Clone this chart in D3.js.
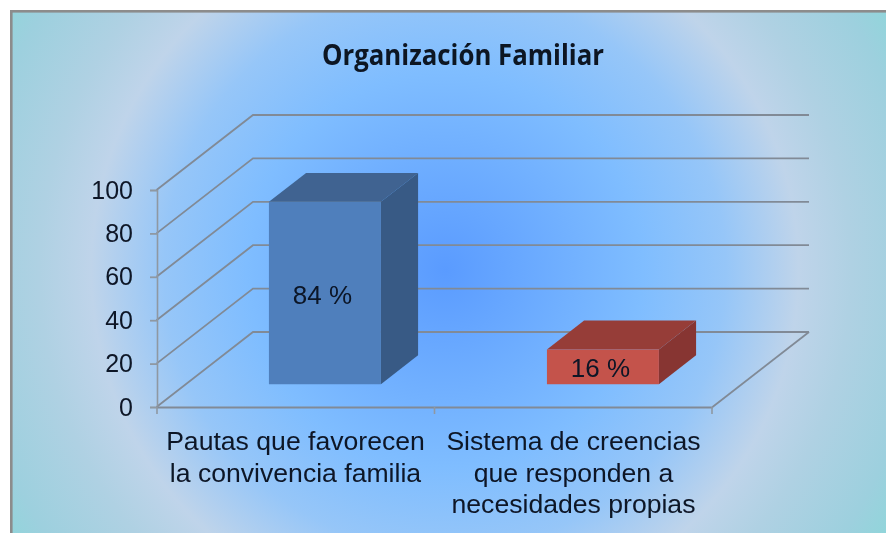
<!DOCTYPE html>
<html><head><meta charset="utf-8">
<script src="https://cdn.jsdelivr.net/npm/d3@7/dist/d3.min.js"></script>
<style>html,body{margin:0;padding:0;background:#fff;overflow:hidden}svg{display:block}</style>
</head><body><svg id="c" width="886" height="533"></svg>
<script>
const title = "Organización Familiar";
const categories = ["c1", "c2"];
const categoryLines = [["Pautas que favorecen", "la convivencia familia"], ["Sistema de creencias", "que responden a", "necesidades propias"]];
const values = [84, 16];
const valueLabels = ["84 %", "16 %"];
const yTicks = [0, 20, 40, 60, 80, 100];
const frontColors = ["#4f7fbc", "#c4534c"];
const topColors = ["#3f6491", "#963e39"];
const sideColors = ["#385a85", "#873632"];

const svg = d3.select("#c");
const defs = svg.append("defs");
const grad = defs.append("radialGradient").attr("id", "bg").attr("gradientUnits", "userSpaceOnUse")
  .attr("cx", 445).attr("cy", 270).attr("r", 520);
[[0, "#5a9bff"], [.38, "#7fbdff"], [.54, "#96c6f8"], [.68, "#bfd4ea"], [.78, "#afd1e3"], [.92, "#9dd0de"], [1, "#8fd6da"]]
  .forEach(([o, c]) => grad.append("stop").attr("offset", o).attr("stop-color", c));
const blur = defs.append("filter").attr("id", "soft").attr("x", "-5%").attr("y", "-5%").attr("width", "110%").attr("height", "110%");
blur.append("feGaussianBlur").attr("stdDeviation", 0.55);

svg.append("rect").attr("x", 10).attr("y", 10).attr("width", 876).attr("height", 523).attr("fill", "#8c8c8c");
svg.append("rect").attr("x", 12.6).attr("y", 12.6).attr("width", 874).attr("height", 521).attr("fill", "url(#bg)");

const root = svg.append("g").attr("filter", "url(#soft)");

const x = d3.scaleBand().domain(categories).range([156.5, 712.5]).padding(0);
const y = d3.scaleLinear().domain([0, 100]).range([407, 190]);
const depthX = d3.scaleLinear().domain([0, 1]).range([0, 96.5]);
const depthY = d3.scaleLinear().domain([0, 1]).range([0, -75]);
const barWidth = 112;
const depthFront = 0.305, depthBack = 0.69;

const gridStroke = "#818a96";
const grid = root.append("g");
yTicks.forEach(t => {
  const yy = y(t);
  grid.append("path").attr("fill", "none").attr("stroke", gridStroke).attr("stroke-width", 1.8)
    .attr("d", d3.line()([[156.5, yy], [156.5 + depthX(1), yy + depthY(1)], [712.5 + depthX(1), yy + depthY(1)]]));
});
grid.append("path").attr("fill", "none").attr("stroke", gridStroke).attr("stroke-width", 1.8)
  .attr("d", d3.line()([[712.5, y(0)], [712.5 + depthX(1), y(0) + depthY(1)]]));

const yAxis = root.append("g").attr("transform", "translate(157,0)")
  .call(d3.axisLeft(y).tickValues(yTicks).tickSize(7).tickPadding(17));
yAxis.select(".domain").attr("stroke", "#8f98a2").attr("stroke-width", 1.6);
yAxis.selectAll(".tick line").attr("stroke", "#8f98a2").attr("stroke-width", 1.8);
yAxis.selectAll("text").attr("font-family", "Liberation Sans").attr("font-size", 25).attr("fill", "#0b1526");

const xAxis = root.append("g").attr("transform", "translate(0,407)")
  .call(d3.axisBottom(x).tickSize(0).tickFormat(""));
xAxis.select(".domain").attr("stroke", gridStroke).attr("stroke-width", 1.8);
[157, x("c2"), 712].forEach(px => root.append("line").attr("x1", px).attr("x2", px).attr("y1", 407).attr("y2", 414)
  .attr("stroke", "#8f98a2").attr("stroke-width", 1.6));

categories.forEach((c, i) => {
  const cx = x(c) + x.bandwidth() / 2;
  const t = root.append("text").attr("text-anchor", "middle").attr("font-family", "Liberation Sans")
    .attr("font-size", 26.6).attr("fill", "#0b1526");
  categoryLines[i].forEach((ln, k) => t.append("tspan").attr("x", cx).attr("y", 450 + k * 31.5).text(ln));
});

categories.forEach((c, i) => {
  const cx = x(c) + x.bandwidth() / 2;
  const l0 = cx - barWidth / 2, r0 = cx + barWidth / 2;
  const fx = depthX(depthFront), bx = depthX(depthBack);
  const fy = depthY(depthFront), by = depthY(depthBack);
  const yb = y(0), yt = y(values[i]);
  const g = root.append("g");
  const poly = (pts, col) => g.append("path").attr("fill", col).attr("d", d3.line()(pts) + "Z");
  poly([[r0 + fx, yb + fy], [r0 + bx, yb + by], [r0 + bx, yt + by], [r0 + fx, yt + fy]], sideColors[i]);
  poly([[l0 + fx, yt + fy], [r0 + fx, yt + fy], [r0 + bx, yt + by], [l0 + bx, yt + by]], topColors[i]);
  poly([[l0 + fx, yb + fy], [r0 + fx, yb + fy], [r0 + fx, yt + fy], [l0 + fx, yt + fy]], frontColors[i]);
  const labelY = [304, 377][i];
  g.append("text").attr("x", cx + fx - 2.5).attr("y", labelY).attr("text-anchor", "middle")
    .attr("font-family", "Liberation Sans").attr("font-size", 26).attr("fill", "#0b1526").text(valueLabels[i]);
});

root.append("text").attr("x", 463).attr("y", 65).attr("text-anchor", "middle")
  .attr("font-family", "Open Sans").attr("font-weight", 700).attr("font-size", 28)
  .attr("textLength", 282).attr("lengthAdjust", "spacingAndGlyphs").attr("fill", "#0a1424").text(title);
</script></body></html>
